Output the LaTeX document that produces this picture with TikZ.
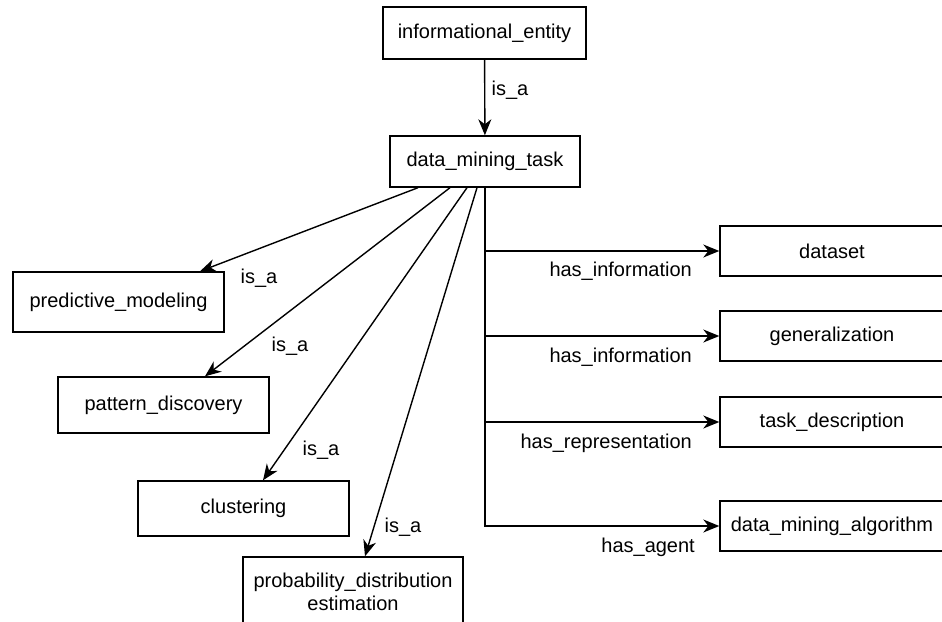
\documentclass[tikz,border=0pt]{standalone}
\usepackage{fontspec}
\setmainfont{Liberation Sans}
\usetikzlibrary{arrows.meta}
\begin{document}
\begin{tikzpicture}[x=1pt,y=-1pt,
  box/.style={draw=black, line width=1.4pt, rectangle, inner sep=0pt, align=center,
    font=\fontsize{20}{23}\selectfont},
  lbl/.style={inner sep=0pt, font=\fontsize{20}{23}\selectfont},
  arr/.style={line width=1.4pt, -{Stealth[length=16pt,width=13pt,inset=5pt]}}]
\useasboundingbox (0,0) rectangle (942,621);
% nodes
\node[box, minimum width=203pt, minimum height=52pt] (ie) at (484.5,33) {informational\_entity};
\node[box, minimum width=190pt, minimum height=51pt] (dmt) at (485,161.5) {data\_mining\_task};
\node[box, minimum width=211pt, minimum height=60pt] (pm) at (118.5,302) {predictive\_modeling};
\node[box, minimum width=211pt, minimum height=56pt] (pd) at (163.5,405) {pattern\_discovery};
\node[box, minimum width=211pt, minimum height=55pt] (cl) at (243.5,508.5) {clustering};
\node[box, minimum width=220pt, minimum height=70pt] (pde) at (353,592) {probability\_distribution\\estimation};
\node[box, minimum width=224pt, minimum height=50pt] (ds) at (832,251) {dataset};
\node[box, minimum width=224pt, minimum height=50pt] (gen) at (832,336) {generalization};
\node[box, minimum width=224pt, minimum height=50pt] (td) at (832,422) {task\_description};
\node[box, minimum width=224pt, minimum height=50pt] (dma) at (832,526) {data\_mining\_algorithm};
% connectors
\draw[arr] (ie) -- (dmt);
\draw[arr] ([xshift=-67pt]dmt.south) -- ([xshift=81.5pt]pm.north);
\draw[arr] ([xshift=-35pt]dmt.south) -- ([xshift=41.5pt]pd.north);
\draw[arr] ([xshift=-18pt]dmt.south) -- ([xshift=19.5pt]cl.north);
\draw[arr] ([xshift=-8pt]dmt.south) -- ([xshift=12pt]pde.north);
\draw[arr] (dmt.south) |- (ds.west);
\draw[arr] (dmt.south) |- (gen.west);
\draw[arr] (dmt.south) |- (td.west);
\draw[arr] (dmt.south) |- (dma.west);
% labels
\node[lbl] (l0) at (510,90) {is\_a};
\node[lbl] (l1) at (259,278) {is\_a};
\node[lbl] (l2) at (290,346) {is\_a};
\node[lbl] (l3) at (321,450) {is\_a};
\node[lbl] (l4) at (403,527) {is\_a};
\node[lbl, anchor=east] (l5) at (692,271) {has\_information};
\node[lbl, anchor=east] (l6) at (692,357) {has\_information};
\node[lbl, anchor=east] (l7) at (692,443) {has\_representation};
\node[lbl, anchor=east] (l8) at (695,547) {has\_agent};
\end{tikzpicture}
\end{document}
